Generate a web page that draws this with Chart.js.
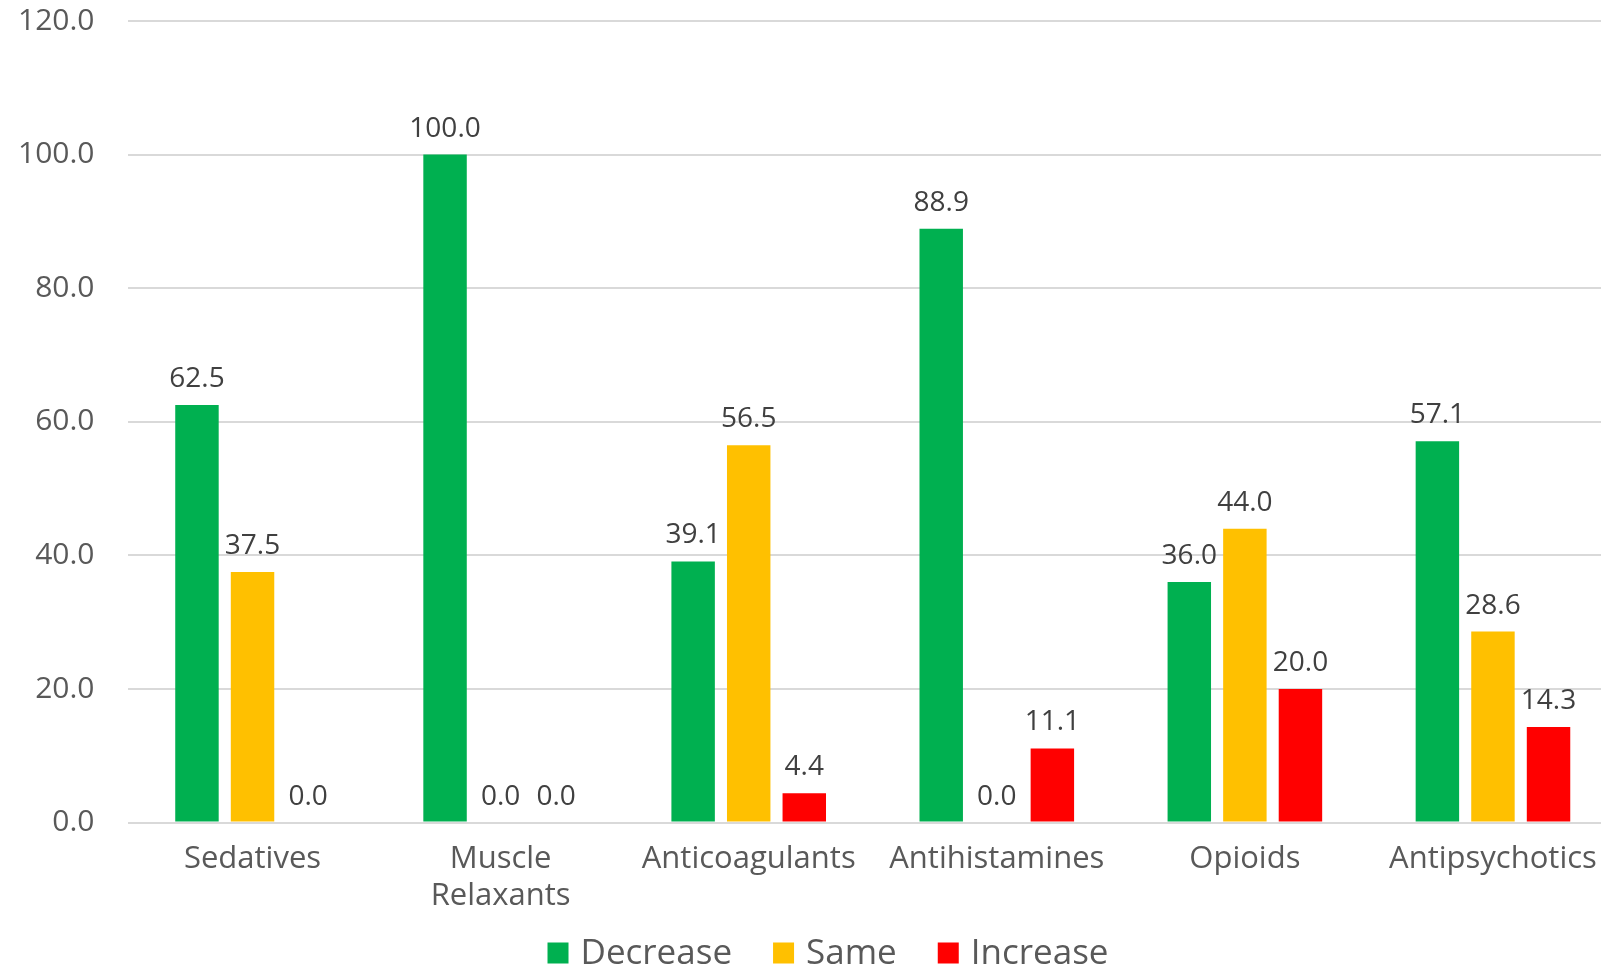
<!DOCTYPE html>
<html>
<head>
<meta charset="utf-8">
<title>Medication change by drug class</title>
<script src="https://cdn.jsdelivr.net/npm/chart.js@4/dist/chart.umd.min.js"></script>
<style>
  html, body { margin: 0; padding: 0; background: #ffffff; overflow: hidden; }
  /* the plot runs slightly past the right edge of the window */
  #wrap { width: 1617px; height: 969px; position: relative; }
</style>
</head>
<body>
<div id="wrap"><canvas id="chart"></canvas></div>
<script>
// Drug classes along the x axis
const categories = ['Sedatives', ['Muscle', 'Relaxants'], 'Anticoagulants', 'Antihistamines', 'Opioids', 'Antipsychotics'];

// Percentage of patients per outcome
const decreaseValues = [62.5, 100.0, 39.1, 88.9, 36.0, 57.1];
const sameValues     = [37.5, 0.0, 56.5, 0.0, 44.0, 28.6];
const increaseValues = [0.0, 0.0, 4.4, 11.1, 20.0, 14.3];

const seriesNames = ['Decrease', 'Same', 'Increase'];
const seriesColors = ['#00B050', '#FFC000', '#FF0000'];

const yTicks = [0, 20, 40, 60, 80, 100, 120];

const FONT = "'Open Sans', 'Noto Sans', sans-serif";

// Value labels above each bar
const valueLabels = {
  id: 'valueLabels',
  afterDatasetsDraw(chart) {
    const ctx = chart.ctx;
    ctx.save();
    ctx.font = '28px ' + FONT;
    ctx.fillStyle = '#404040';
    ctx.textAlign = 'center';
    ctx.textBaseline = 'middle';
    chart.data.datasets.forEach((ds, di) => {
      const meta = chart.getDatasetMeta(di);
      meta.data.forEach((el, i) => {
        ctx.fillText(Number(ds.data[i]).toFixed(1), el.x, el.y - 26);
      });
    });
    ctx.restore();
  }
};

// Legend row along the bottom edge
const bottomLegend = {
  id: 'bottomLegend',
  afterDraw(chart, args, opts) {
    const ctx = chart.ctx;
    ctx.save();
    ctx.font = opts.fontSize + 'px ' + FONT;
    ctx.textBaseline = 'middle';
    ctx.textAlign = 'left';
    const items = chart.data.datasets.map(ds => ({ text: ds.label, color: ds.backgroundColor }));
    const widths = items.map(it => opts.box + opts.boxGap + ctx.measureText(it.text).width);
    const total = widths.reduce((a, b) => a + b, 0) + opts.itemGap * (items.length - 1);
    let x = opts.centerX - total / 2;
    const y = opts.centerY;
    items.forEach((it, i) => {
      ctx.fillStyle = it.color;
      ctx.fillRect(x, y - opts.box / 2, opts.box, opts.box);
      ctx.fillStyle = '#595959';
      ctx.fillText(it.text, x + opts.box + opts.boxGap, y + 1);
      x += widths[i] + opts.itemGap;
    });
    ctx.restore();
  }
};

const datasets = [decreaseValues, sameValues, increaseValues].map((vals, k) => ({
  label: seriesNames[k],
  data: vals,
  backgroundColor: seriesColors[k],
  borderWidth: 0,
  categoryPercentage: 0.672,
  barPercentage: 0.782
}));

new Chart(document.getElementById('chart'), {
  type: 'bar',
  data: { labels: categories, datasets },
  options: {
    responsive: true,
    maintainAspectRatio: false,
    animation: false,
    layout: { padding: { left: -16, right: 0, top: 21, bottom: 36 } },
    plugins: {
      legend: { display: false },
      tooltip: { enabled: false },
      bottomLegend: { fontSize: 35, box: 21, boxGap: 12, itemGap: 41, centerX: 828, centerY: 953 }
    },
    scales: {
      x: {
        grid: { display: false, drawTicks: false },
        border: { display: false },
        ticks: {
          color: '#595959',
          font: { family: FONT, size: 31 },
          padding: 18,
          maxRotation: 0,
          autoSkip: false
        }
      },
      y: {
        min: 0,
        max: 120,
        afterBuildTicks(scale) { scale.ticks = yTicks.map(v => ({ value: v })); },
        // the top tick label sits inside the top margin; keep the tick gap out of it
        afterFit(scale) { scale.paddingTop = 0; scale.paddingBottom = 0; },
        grid: { color: '#D9D9D9', lineWidth: 2, drawTicks: false },
        border: { display: false },
        ticks: {
          color: '#595959',
          font: { family: FONT, size: 30 },
          padding: 34,
          callback: v => Number(v).toFixed(1)
        }
      }
    }
  },
  plugins: [valueLabels, bottomLegend]
});
</script>
</body>
</html>
